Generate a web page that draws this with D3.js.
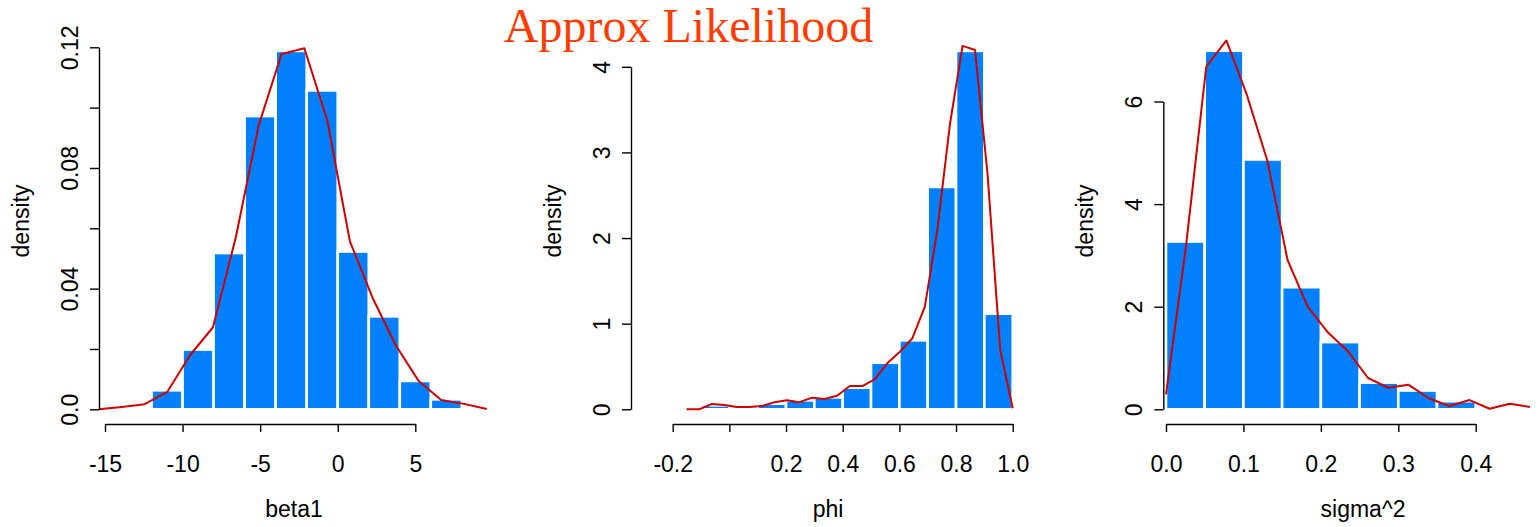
<!DOCTYPE html>
<html><head><meta charset="utf-8">
<script src="https://cdn.jsdelivr.net/npm/d3@7"></script>
<style>body{margin:0;background:#fff} svg{display:block}</style>
</head><body><svg id="c" width="1538" height="527"></svg>
<script>
// ---------- data ----------
const beta1Breaks  = [-12,-10,-8,-6,-4,-2,0,2,4,6,8,10];
const beta1Density = [0.0063,0.0198,0.0518,0.0972,0.1188,0.1057,0.0523,0.0308,0.0094,0.0033,0.0004];
const beta1LineX   = [-15.39,-13.92,-12.45,-10.98,-9.51,-8.04,-6.56,-5.09,-3.62,-2.15,-0.68,0.79,2.26,3.73,5.20,6.67,8.14,9.61];
const beta1LineY   = [0,0.0008,0.0017,0.0058,0.018,0.0272,0.0572,0.0942,0.1178,0.1197,0.0959,0.0556,0.0368,0.0213,0.0095,0.0031,0.0018,0.0001];
const beta1XTicks  = [-15,-10,-5,0,5];
const beta1YTicks  = [0,0.02,0.04,0.06,0.08,0.10,0.12];
const beta1YLabels = ["0.0","","0.04","","0.08","","0.12"];

const phiBreaks  = [-0.1,0,0.1,0.2,0.3,0.4,0.5,0.6,0.7,0.8,0.9,1.0];
const phiDensity = [0.046,0,0.065,0.104,0.139,0.252,0.544,0.805,2.597,4.186,1.117];
const phiLineX   = [-0.151,-0.107,-0.062,-0.018,0.026,0.070,0.115,0.159,0.203,0.247,0.292,0.336,0.380,0.425,0.469,0.513,0.557,0.602,0.646,0.690,0.734,0.779,0.823,0.867,0.911,0.956,1.000];
const phiLineY   = [0,0,0.062,0.05,0.027,0.027,0.039,0.082,0.105,0.082,0.136,0.12,0.159,0.272,0.272,0.35,0.537,0.673,0.83,1.199,2.095,3.341,4.244,4.197,2.757,0.693,0.012];
const phiXTicks  = [-0.2,0,0.2,0.4,0.6,0.8,1.0];
const phiXLabels = ["-0.2","","0.2","0.4","0.6","0.8","1.0"];
const phiYTicks  = [0,1,2,3,4];
const phiYLabels = ["0","1","2","3","4"];

const sigBreaks  = [0,0.05,0.10,0.15,0.20,0.25,0.30,0.35,0.40,0.45,0.50];
const sigDensity = [3.27,6.99,4.87,2.38,1.31,0.52,0.366,0.157,0.01,0.01];
const sigLineX   = [0,0.026,0.052,0.078,0.104,0.131,0.157,0.183,0.209,0.235,0.261,0.287,0.313,0.340,0.366,0.392,0.418,0.444,0.470];
const sigLineY   = [0.29,3.2,6.68,7.19,6.15,4.84,2.91,2.0,1.5,1.13,0.61,0.42,0.48,0.21,0.065,0.18,0.01,0.11,0.045];
const sigXTicks  = [0,0.1,0.2,0.3,0.4];
const sigXLabels = ["0.0","0.1","0.2","0.3","0.4"];
const sigYTicks  = [0,2,4,6];
const sigYLabels = ["0","2","4","6"];

const titleText = "Approx Likelihood";

// ---------- layout ----------
const svg = d3.select("#c");
const FONT = "'Liberation Sans', Arial, Helvetica, sans-serif";
const AXIS_Y = 424, Y0 = 409.3;

const panels = [
  {breaks: beta1Breaks, dens: beta1Density, lx: beta1LineX, ly: beta1LineY,
   xt: beta1XTicks, xl: beta1XTicks.map(String), yt: beta1YTicks, yl: beta1YLabels,
   xdom: [-15,5], xr: [105,415.3], ydom: [0,0.12], yr: [Y0,47.3], yAxisX: 99,
   xlab: "beta1", xlabX: 294},
  {breaks: phiBreaks, dens: phiDensity, lx: phiLineX, ly: phiLineY,
   xt: phiXTicks, xl: phiXLabels, yt: phiYTicks, yl: phiYLabels,
   xdom: [-0.2,1.0], xr: [672.7,1012.7], ydom: [0,4], yr: [Y0,66.8], yAxisX: 631,
   xlab: "phi", xlabX: 828},
  {breaks: sigBreaks, dens: sigDensity, lx: sigLineX, ly: sigLineY,
   xt: sigXTicks, xl: sigXLabels, yt: sigYTicks, yl: sigYLabels,
   xdom: [0,0.4], xr: [1166,1475.7], ydom: [0,6], yr: [Y0,101.5], yAxisX: 1163.3,
   xlab: "sigma^2", xlabX: 1363}
];

panels.forEach(p => {
  const x = d3.scaleLinear().domain(p.xdom).range(p.xr);
  const y = d3.scaleLinear().domain(p.ydom).range(p.yr);
  const g = svg.append("g");

  // histogram bars
  const bins = p.dens.map((d,i) => ({x0: p.breaks[i], x1: p.breaks[i+1], d}));
  g.selectAll("rect.bar").data(bins).join("rect")
    .attr("x", b => x(b.x0)).attr("width", b => x(b.x1) - x(b.x0))
    .attr("y", b => y(b.d)).attr("height", b => y(0) - y(b.d))
    .attr("fill", "#0080ff").attr("stroke", "#ffffff").attr("stroke-width", 2.6);

  // density line
  const pts = p.lx.map((v,i) => [v, p.ly[i]]);
  g.append("path").datum(pts)
    .attr("d", d3.line().x(d => x(d[0])).y(d => y(d[1])))
    .attr("fill", "none").attr("stroke", "#cc0000").attr("stroke-width", 2)
    .attr("stroke-linejoin", "round");

  // x axis
  const xa = g.append("g").attr("transform", `translate(0,${AXIS_Y})`)
    .call(d3.axisBottom(x).tickValues(p.xt).tickSize(8).tickSizeOuter(0)
      .tickFormat((d,i) => p.xl[i]));
  xa.select(".domain").attr("stroke", "#000").attr("stroke-width", 1.4);
  xa.selectAll(".tick line").attr("stroke", "#000").attr("stroke-width", 1.4);
  xa.selectAll(".tick text").attr("y", 48).attr("dy", 0)
    .attr("font-family", FONT).attr("font-size", 23).attr("fill", "#000");

  // y axis
  const ya = g.append("g").attr("transform", `translate(${p.yAxisX},0)`)
    .call(d3.axisLeft(y).tickValues(p.yt).tickSize(9).tickSizeOuter(0)
      .tickFormat((d,i) => p.yl[i]));
  ya.select(".domain").attr("stroke", "#000").attr("stroke-width", 1.4);
  ya.selectAll(".tick line").attr("stroke", "#000").attr("stroke-width", 1.4);
  ya.selectAll(".tick text").attr("transform", "rotate(-90)")
    .attr("x", 0).attr("y", -21).attr("dy", 0).attr("text-anchor", "middle")
    .attr("font-family", FONT).attr("font-size", 23).attr("fill", "#000");

  // axis titles
  g.append("text").attr("x", p.xlabX).attr("y", 517).attr("text-anchor", "middle")
    .attr("font-family", FONT).attr("font-size", 23).text(p.xlab);
  g.append("text").attr("transform", `translate(${p.yAxisX - 70},221) rotate(-90)`)
    .attr("text-anchor", "middle")
    .attr("font-family", FONT).attr("font-size", 23).text("density");
});

// main title
svg.append("text").attr("x", 688.5).attr("y", 42.3).attr("text-anchor", "middle")
  .attr("font-family", "'Liberation Serif', 'Times New Roman', serif")
  .attr("font-size", 48).attr("fill", "#ff3c00").text(titleText);
</script>
</body></html>
